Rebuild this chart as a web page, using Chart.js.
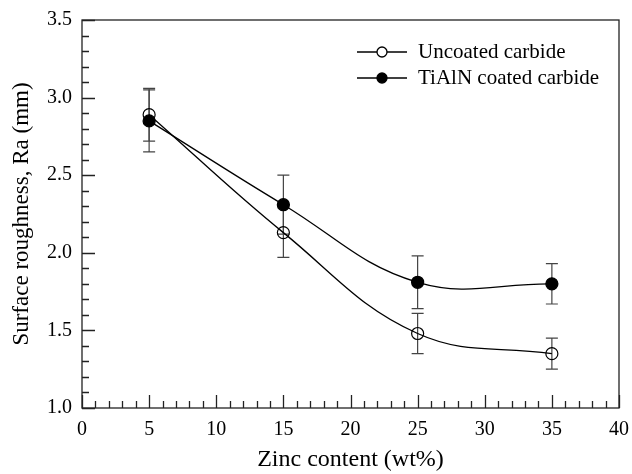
<!DOCTYPE html>
<html>
<head>
<meta charset="utf-8">
<script src="https://cdn.jsdelivr.net/npm/chart.js@4"></script>
<style>
  body { margin: 0; background: #fff; }
</style>
</head>
<body>
<canvas id="chart" width="632" height="474"></canvas>
<script>
const zinc = [5, 15, 25, 35];
const uncoated = [2.89, 2.13, 1.48, 1.35];
const uncoatedErr = [0.17, 0.16, 0.13, 0.10];
const coated = [2.85, 2.31, 1.81, 1.80];
const coatedErr = [0.20, 0.19, 0.17, 0.13];
const errs = [uncoatedErr, coatedErr];

const serif = "'Liberation Serif', 'Times New Roman', serif";

// error bars, inward ticks, frame
const decor = {
  id: "decor",
  beforeDatasetsDraw(chart) {
    const { ctx } = chart;
    const x = chart.scales.x, y = chart.scales.y;
    ctx.save();
    ctx.strokeStyle = "#444";
    ctx.lineWidth = 1.2;
    chart.data.datasets.forEach((ds, i) => {
      ds.data.forEach((p, j) => {
        const px = x.getPixelForValue(p.x);
        const hi = y.getPixelForValue(p.y + errs[i][j]);
        const lo = y.getPixelForValue(p.y - errs[i][j]);
        ctx.beginPath();
        ctx.moveTo(px, hi); ctx.lineTo(px, lo);
        ctx.moveTo(px - 6, hi); ctx.lineTo(px + 6, hi);
        ctx.moveTo(px - 6, lo); ctx.lineTo(px + 6, lo);
        ctx.stroke();
      });
    });
    ctx.restore();
  },
  afterDraw(chart) {
    const { ctx, chartArea: a } = chart;
    const x = chart.scales.x, y = chart.scales.y;
    ctx.save();
    ctx.strokeStyle = "#222";
    ctx.lineWidth = 1.3;
    ctx.strokeRect(a.left, a.top, a.right - a.left, a.bottom - a.top);
    ctx.beginPath();
    for (let v = 0; v <= 40; v++) {
      const px = Math.round(x.getPixelForValue(v)) + 0.5;
      const len = v % 5 === 0 ? 13 : 7;
      ctx.moveTo(px, a.bottom); ctx.lineTo(px, a.bottom - len);
    }
    for (let k = 10; k <= 35; k++) {
      const py = Math.round(y.getPixelForValue(k / 10)) + 0.5;
      const len = k % 5 === 0 ? 13 : 7;
      ctx.moveTo(a.left, py); ctx.lineTo(a.left + len, py);
    }
    ctx.stroke();

    // legend
    ctx.font = "21px " + serif;
    ctx.textBaseline = "middle";
    ctx.fillStyle = "#000";
    chart.data.datasets.forEach((ds, i) => {
      const ly = 52 + i * 26;
      ctx.strokeStyle = "#000";
      ctx.lineWidth = 1.3;
      ctx.beginPath();
      ctx.moveTo(357, ly); ctx.lineTo(407, ly);
      ctx.stroke();
      ctx.beginPath();
      ctx.arc(382, ly, 5, 0, Math.PI * 2);
      ctx.fillStyle = i === 0 ? "#fff" : "#000";
      ctx.fill();
      ctx.stroke();
      ctx.fillStyle = "#000";
      ctx.fillText(ds.label, 418, ly);
    });
    ctx.restore();
  }
};

new Chart(document.getElementById("chart"), {
  type: "line",
  data: {
    datasets: [
      {
        label: "Uncoated carbide",
        data: zinc.map((z, i) => ({ x: z, y: uncoated[i] })),
        borderColor: "#000",
        borderWidth: 1.3,
        pointRadius: 6,
        pointBorderWidth: 1.2,
        pointBackgroundColor: "rgba(0,0,0,0)",
        pointBorderColor: "#000",
        tension: 0.4
      },
      {
        label: "TiAlN coated carbide",
        data: zinc.map((z, i) => ({ x: z, y: coated[i] })),
        borderColor: "#000",
        borderWidth: 1.3,
        pointRadius: 6,
        pointBackgroundColor: "#000",
        pointBorderColor: "#000",
        tension: 0.4
      }
    ]
  },
  options: {
    responsive: false,
    animation: false,
    layout: { padding: { left: 0, right: 13, top: 20, bottom: 0 } },
    plugins: { legend: { display: false }, tooltip: { enabled: false } },
    scales: {
      x: {
        type: "linear",
        min: 0,
        max: 40,
        grid: { display: false, drawTicks: false },
        border: { display: false },
        ticks: { stepSize: 5, color: "#000", padding: 10, font: { family: serif, size: 20 } },
        title: { display: true, text: "Zinc content (wt%)", color: "#000", padding: { top: 0, bottom: 0 }, font: { family: serif, size: 24 } },
        afterFit(s) { s.height = 66; s.paddingLeft = 0; s.paddingRight = 0; }
      },
      y: {
        min: 1.0,
        max: 3.5,
        grid: { display: false, drawTicks: false },
        border: { display: false },
        ticks: { stepSize: 0.5, color: "#000", padding: 10, font: { family: serif, size: 20 }, callback: v => v.toFixed(1) },
        title: { display: true, text: "Surface roughness, Ra (mm)", color: "#000", padding: { top: 8, bottom: 0 }, font: { family: serif, size: 23 } },
        afterFit(s) { s.width = 82; s.paddingTop = 0; s.paddingBottom = 0; }
      }
    }
  },
  plugins: [decor]
});
</script>
</body>
</html>
